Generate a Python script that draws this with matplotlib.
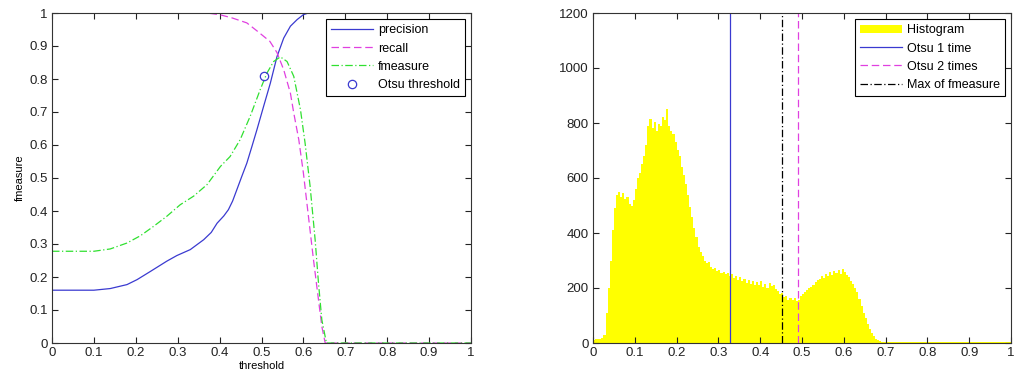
import numpy as np
import matplotlib
matplotlib.use('Agg')
import matplotlib.pyplot as plt

plt.rcParams['font.family'] = ['Liberation Sans', 'DejaVu Sans']

# precision / recall / fmeasure versus threshold
thr_p = [0, 0.1, 0.139, 0.179, 0.203, 0.235, 0.274, 0.298, 0.33, 0.362, 0.38, 0.394, 0.41, 0.421,
         0.431, 0.441, 0.453, 0.465, 0.477, 0.489, 0.505, 0.521, 0.537, 0.553, 0.569, 0.585,
         0.6, 0.612, 1.0]
precision = [0.16, 0.16, 0.165, 0.177, 0.192, 0.217, 0.248, 0.265, 0.283, 0.313, 0.335, 0.363,
             0.385, 0.404, 0.43, 0.464, 0.505, 0.545, 0.595, 0.646, 0.717, 0.787, 0.868, 0.924,
             0.96, 0.98, 0.995, 1.0, 1.0]

thr_r = [0, 0.37, 0.4, 0.43, 0.465, 0.49, 0.52, 0.537, 0.553, 0.569, 0.577, 0.589,
         0.6, 0.612, 0.624, 0.636, 0.644, 0.652, 1.0]
recall = [1.0, 1.0, 0.995, 0.985, 0.97, 0.945, 0.914, 0.88, 0.828, 0.757, 0.697, 0.616,
          0.515, 0.384, 0.253, 0.131, 0.05, 0.0, 0.0]

thr_f = [0, 0.1, 0.139, 0.179, 0.211, 0.243, 0.274, 0.306, 0.338, 0.37, 0.402, 0.425,
         0.449, 0.473, 0.497, 0.513, 0.529, 0.545, 0.561, 0.577, 0.593, 0.604, 0.616,
         0.628, 0.636, 0.644, 0.655, 1.0]
fmeasure = [0.278, 0.278, 0.285, 0.303, 0.325, 0.354, 0.384, 0.419, 0.445, 0.48, 0.535, 0.565,
            0.616, 0.687, 0.768, 0.818, 0.853, 0.867, 0.853, 0.808, 0.707, 0.606, 0.475,
            0.313, 0.182, 0.07, 0.0, 0.0]

otsu_thr = 0.507
otsu_f = 0.81

# grey-level histogram, bins of width 0.005 over [0, 1]
hist_counts = [
    12, 14, 13, 15, 18, 30, 110, 200, 300, 410,
    490, 540, 550, 530, 545, 525, 530, 505, 500, 520,
    560, 600, 620, 650, 680, 720, 790, 815, 780, 805,
    770, 795, 790, 820, 810, 850, 790, 770, 760, 730,
    700, 680, 640, 610, 580, 540, 495, 460, 420, 385,
    350, 330, 315, 300, 290, 295, 278, 270, 272, 262,
    265, 255, 260, 250, 253, 245, 250, 238, 242, 230,
    240, 225, 232, 220, 228, 215, 225, 212, 222, 210,
    225, 205, 215, 200, 220, 208, 212, 195, 190, 178,
    182, 168, 170, 158, 165, 155, 162, 152, 158, 170,
    178, 185, 192, 200, 205, 212, 222, 228, 232, 242,
    238, 250, 245, 258, 248, 262, 255, 265, 252, 268,
    258, 248, 240, 225, 215, 200, 185, 160, 135, 110,
    90, 68, 50, 35, 24, 15, 10, 7, 5, 4,
    3, 4, 3, 3, 4, 3, 2, 3, 4, 3,
    3, 2, 3, 3, 4, 3, 3, 2, 3, 3,
    4, 3, 3, 2, 3, 3, 3, 4, 3, 2,
    3, 3, 2, 3, 3, 4, 3, 3, 2, 3,
    3, 3, 4, 3, 3, 2, 3, 3, 3, 2,
    3, 4, 3, 3, 2, 3, 3, 3, 4, 3,
]
hist_edges = np.linspace(0, 1, len(hist_counts) + 1)

otsu1 = 0.328
otsu2 = 0.49
max_fm = 0.451

fig = plt.figure(figsize=(10.14, 3.8), dpi=100)
ax1 = fig.add_axes([52 / 1014, 37 / 380, 419 / 1014, 330 / 380])
ax2 = fig.add_axes([593 / 1014, 37 / 380, 418 / 1014, 330 / 380])

blue = '#3a3ad0'
mag = '#e040e0'
green = '#30e030'

ax1.plot(thr_p, precision, '-', color=blue, lw=0.9, label='precision')
ax1.plot(thr_r, recall, '--', color=mag, lw=0.9, label='recall', dashes=(6, 3))
ax1.plot(thr_f, fmeasure, '-.', color=green, lw=0.9, label='fmeasure', dashes=(6, 2, 1, 2))
ax1.plot([otsu_thr], [otsu_f], 'o', mfc='none', mec=blue, ms=6, mew=0.9, label='Otsu threshold')
ax1.set_xlim(0, 1)
ax1.set_ylim(0, 1)
ax1.set_xticks(np.arange(0, 1.01, 0.1))
ax1.set_yticks(np.arange(0, 1.01, 0.1))
ax1.set_xlabel('threshold', fontsize=8, labelpad=1)
ax1.set_ylabel('fmeasure', fontsize=8, labelpad=3)

ax2.stairs(hist_counts, hist_edges, fill=True, color='#ffff00', lw=0, label='Histogram')
ax2.axvline(otsu1, color=blue, lw=0.9, label='Otsu 1 time')
ax2.axvline(otsu2, color=mag, lw=0.9, ls='--', dashes=(6, 3), label='Otsu 2 times')
ax2.axvline(max_fm, color='black', lw=0.9, ls='-.', dashes=(6, 2, 1, 2), label='Max of fmeasure')
ax2.set_xlim(0, 1)
ax2.set_ylim(0, 1200)
ax2.set_xticks(np.arange(0, 1.01, 0.1))
ax2.set_yticks(np.arange(0, 1201, 200))

tick_labels = ['0', '0.1', '0.2', '0.3', '0.4', '0.5', '0.6', '0.7', '0.8', '0.9', '1']
ax1.set_xticklabels(tick_labels)
ax1.set_yticklabels(tick_labels)
ax2.set_xticklabels(tick_labels)

for ax in (ax1, ax2):
    ax.tick_params(direction='in', top=True, right=True, length=4, width=0.8,
                   labelsize=9.5, colors='#222222', pad=3)
    for s in ax.spines.values():
        s.set_color('#333333')
        s.set_linewidth(0.8)
    leg = ax.legend(loc='upper right', fontsize=9, fancybox=False, framealpha=1,
                    edgecolor='black', borderaxespad=0.5, handlelength=3.4,
                    handletextpad=0.35, labelspacing=0.5, borderpad=0.4)
    leg.get_frame().set_linewidth(0.8)

fig.savefig('out.png', dpi=100)
